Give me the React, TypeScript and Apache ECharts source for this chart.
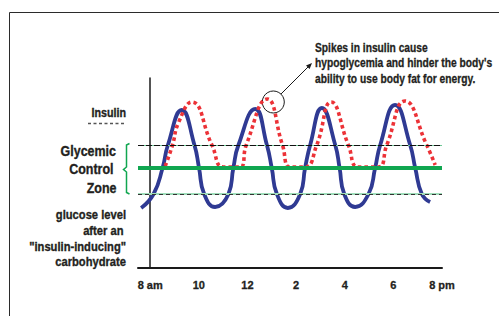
import React, { useEffect, useRef } from "react";
import * as echarts from "echarts";

// x values: hours after 8 am; y values: relative level
const tickHours = [0, 2, 4, 6, 8, 10, 12];
const tickLabels = ["8 am", "10", "12", "2", "4", "6", "8 pm"];

const glucoseHours = [-0.37, 0.14, 0.51, 0.73, 1.3, 1.82, 2.01, 2.22, 2.67, 3.22, 3.42, 3.63, 4.32, 4.8, 5.0, 5.21, 5.66, 6.17, 6.37, 6.58, 7.06, 7.61, 7.79, 7.98, 8.43, 8.98, 9.25, 9.46, 10.07, 10.69, 10.9, 11.17, 11.51];
const glucoseLevels = [60, 74, 100, 123, 158, 123, 100, 74, 61, 74, 100, 123, 159, 123, 100, 74, 60, 74, 100, 123, 160, 123, 100, 74, 61, 74, 100, 123, 163, 123, 100, 74, 66];

const insulinHours = [0.62, 0.92, 1.16, 1.71, 2.54, 3.01, 3.7, 3.95, 4.81, 5.44, 5.76, 6.37, 6.85, 7.44, 8.15, 8.56, 9.38, 9.73, 10.48, 11.37, 11.72];
const insulinLevels = [102, 123, 145, 166, 123, 101, 101, 123, 169, 123, 101, 101, 123, 166, 123, 101, 101, 123, 167, 123, 103];

const zoneHigh = 123;
const target = 100;
const zoneLow = 74;

const FONT = "'Liberation Sans', Arial, sans-serif";
const TXT = "#231f20";

export default function App() {
  const ref = useRef<HTMLDivElement>(null);
  useEffect(() => {
    if (!ref.current) return;
    const chart = echarts.init(ref.current, undefined, { renderer: "svg" });
    const pair = (xs: number[], ys: number[]) => xs.map((x, i) => [x, ys[i]]);
    const txt = (text: string, x: number, y: number, align: string, size: number, sx = 0.86) => ({
      type: "text",
      x,
      y,
      scaleX: sx,
      style: {
        text,
        align,
        verticalAlign: "middle",
        fontFamily: FONT,
        fontWeight: "bold",
        fontSize: size,
        fill: TXT,
        stroke: TXT,
        lineWidth: 0.35,
      },
    });
    chart.setOption({
      animation: false,
      backgroundColor: "#ffffff",
      grid: { left: 138, top: 78, width: 304, height: 190, containLabel: false, outerBoundsMode: "none" },
      xAxis: {
        type: "value",
        min: -0.5,
        max: 12,
        axisLine: { show: true, lineStyle: { color: "#1a1a1a", width: 2 } },
        axisTick: { show: false },
        splitLine: { show: false },
        axisLabel: {
          customValues: tickHours,
          formatter: (v: number) => tickLabels[tickHours.indexOf(v)] ?? "",
          margin: 11,
          fontFamily: FONT,
          fontWeight: "bold",
          fontSize: 11,
          color: TXT,
          textBorderColor: TXT,
          textBorderWidth: 0.3,
        },
      },
      yAxis: {
        type: "value",
        min: 0,
        max: 190,
        axisLine: { show: true, lineStyle: { color: "#1a1a1a", width: 1.5 } },
        axisTick: { show: false },
        axisLabel: { show: false },
        splitLine: { show: false },
      },
      series: [
        {
          type: "line",
          data: [],
          z: 1,
          silent: true,
          markLine: {
            silent: true,
            symbol: "none",
            label: { show: false },
            data: [
              { yAxis: zoneHigh, lineStyle: { color: "#6fc796", width: 1, type: "solid" } },
              { yAxis: zoneHigh, lineStyle: { color: "#111111", width: 1, type: [6, 2] } },
              { yAxis: zoneLow, lineStyle: { color: "#9fdcb9", width: 2, type: "solid" } },
              { yAxis: zoneLow, lineStyle: { color: "#333333", width: 1.2, type: [4, 3] } },
              { yAxis: target, lineStyle: { color: "#10a650", width: 4, type: "solid" } },
            ],
          },
        },
        {
          type: "line",
          name: "glucose",
          data: pair(glucoseHours, glucoseLevels),
          smooth: true,
          showSymbol: false,
          z: 3,
          lineStyle: { color: "#2f3a93", width: 3.8 },
        },
        {
          type: "line",
          name: "insulin",
          data: pair(insulinHours, insulinLevels),
          smooth: true,
          showSymbol: false,
          z: 4,
          lineStyle: { color: "#ec3237", width: 3.6, type: [3.6, 3], cap: "butt" },
        },
      ],
      graphic: [
        {
          type: "rect",
          shape: { x: 9.5, y: 12.5, width: 700, height: 500 },
          style: { fill: "none", stroke: "#2b2b2b", lineWidth: 1 },
          silent: true,
        },
        txt("Insulin", 126, 112, "right", 12.5),
        {
          type: "line",
          shape: { x1: 88, y1: 123.5, x2: 126, y2: 123.5 },
          style: { stroke: "#555555", lineWidth: 1.5, lineDash: [3, 2.5] },
        },
        txt("Glycemic", 116, 151, "right", 14.5),
        txt("Control", 113.5, 169, "right", 14.5),
        txt("Zone", 116.5, 188, "right", 14.5),
        {
          type: "polyline",
          shape: {
            points: [
              [129.5, 143.5],
              [126.5, 145],
              [126.5, 167],
              [123.5, 169.5],
              [126.5, 172],
              [126.5, 192.5],
              [129.5, 194],
            ],
          },
          style: { stroke: "#10a650", lineWidth: 1.5, fill: "none" },
        },
        txt("glucose level", 126, 215, "right", 13),
        txt("after an", 123.5, 231, "right", 13),
        txt('"insulin-inducing"', 126, 246.7, "right", 13),
        txt("carbohydrate", 126, 262, "right", 13),
        {
          type: "text",
          x: 315,
          y: 63,
          scaleX: 0.82,
          style: {
            text: "Spikes in insulin cause\nhypoglycemia and hinder the body's\nability to use body fat for energy.",
            align: "left",
            verticalAlign: "middle",
            lineHeight: 15.5,
            fontFamily: FONT,
            fontWeight: "bold",
            fontSize: 12.5,
            fill: TXT,
            stroke: TXT,
            lineWidth: 0.3,
          },
        },
        {
          type: "circle",
          shape: { cx: 273.3, cy: 102, r: 11 },
          style: { fill: "none", stroke: "#1a1a1a", lineWidth: 1 },
        },
        {
          type: "line",
          shape: { x1: 281, y1: 94, x2: 309, y2: 66 },
          style: { stroke: "#1a1a1a", lineWidth: 1 },
        },
        {
          type: "polygon",
          shape: { points: [[312, 63], [309.6, 69], [306, 65.4]] },
          style: { fill: "#1a1a1a" },
        },
      ],
    });
    return () => chart.dispose();
  }, []);
  return (
    <div
      ref={ref}
      style={{ position: "fixed", left: 0, top: 0, width: 499, height: 316, background: "#fff" }}
    />
  );
}
